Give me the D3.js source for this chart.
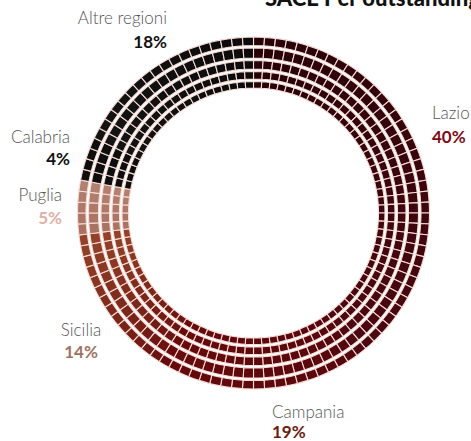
<!DOCTYPE html>
<html><head><meta charset="utf-8">
<script src="https://cdn.jsdelivr.net/npm/d3@7"></script>
<style>
html,body{margin:0;padding:0;background:#fff;overflow:hidden;}
svg{display:block;}
</style></head>
<body>
<svg id="chart" width="471" height="441"></svg>
<script>
const regions = ["Lazio", "Campania", "Sicilia", "Puglia", "Calabria", "Altre regioni"];
const values = [40, 19, 14, 5, 4, 18];
const percentLabels = ["40%", "19%", "14%", "5%", "4%", "18%"];
const colorFrom = ["#250207", "#54070e", "#6a1210", "#a87060", "#0e0e0e", "#141414"];
const colorTo = ["#4e0812", "#680a0c", "#94442a", "#b48272", "#0e0e0e", "#0b0b0b"];
const labelColors = ["#7d0a16", "#6b1c10", "#9e7262", "#e2b0a6", "#111111", "#111111"];
const titleText = "SACE Per outstanding";
const cellsPerRing = 100;

const svg = d3.select("#chart");
const cx = 253.5, cy = 213;
const g = svg.append("g").attr("transform", `translate(${cx},${cy})`);

const total = d3.sum(values);
const angle = d3.scaleLinear().domain([0, total]).range([0, 2 * Math.PI]);
const cum = d3.cumsum(values);
const regionOf = d3.scaleThreshold().domain(Array.from(cum).slice(0, -1)).range(d3.range(regions.length));
const starts = [0, ...Array.from(cum).slice(0, -1)];

const ringRadii = [[125, 131.5], [134, 141.5], [144, 152.5], [155, 165], [167.5, 176]];
const arc = d3.arc();

const cells = [];
ringRadii.forEach((rr, ri) => {
  for (let k = 0; k < cellsPerRing; k++) {
    const v0 = k * total / cellsPerRing, v1 = (k + 1) * total / cellsPerRing;
    const reg = regionOf(v0 + 0.0001);
    const t = (v0 + 0.5 - starts[reg]) / values[reg];
    cells.push({ri, reg, a0: angle(v0), a1: angle(v1), r0: rr[0], r1: rr[1],
      color: d3.interpolateRgb(colorFrom[reg], colorTo[reg])(t)});
  }
});

g.selectAll("path.cell").data(cells).join("path")
  .attr("class", "cell")
  .attr("d", d => arc({innerRadius: d.r0, outerRadius: d.r1, startAngle: d.a0, endAngle: d.a1}))
  .attr("fill", d => d.color)
  .attr("stroke", "#f7dcd5")
  .attr("stroke-width", 1.1);

// title (cut at top, as in the reference)
svg.append("text").attr("x", 265).attr("y", 6)
  .attr("font-family", "Lato, sans-serif").attr("font-weight", 900).attr("font-size", 22)
  .attr("fill", "#111").text(titleText);

const labelPos = [
  {x: 432, y: 119, y2: 143, anchor: "start"},
  {x: 272, y: 418, y2: 438, anchor: "start"},
  {x: 81, y: 336, y2: 358, anchor: "middle"},
  {x: 62, y: 201, y2: 224, anchor: "end"},
  {x: 70, y: 143, y2: 165, anchor: "end"},
  {x: 167, y: 24, y2: 48, anchor: "end"}
];

regions.forEach((name, i) => {
  const p = labelPos[i];
  svg.append("text").attr("x", p.x).attr("y", p.y).attr("text-anchor", p.anchor)
    .attr("font-family", "Lato, sans-serif").attr("font-weight", 300).attr("font-size", 17)
    .attr("fill", "#555").text(name);
  svg.append("text").attr("x", p.x).attr("y", p.y2).attr("text-anchor", p.anchor)
    .attr("font-family", "Lato, sans-serif").attr("font-weight", 700).attr("font-size", 17)
    .attr("fill", labelColors[i]).text(percentLabels[i]);
});
</script>
</body></html>
